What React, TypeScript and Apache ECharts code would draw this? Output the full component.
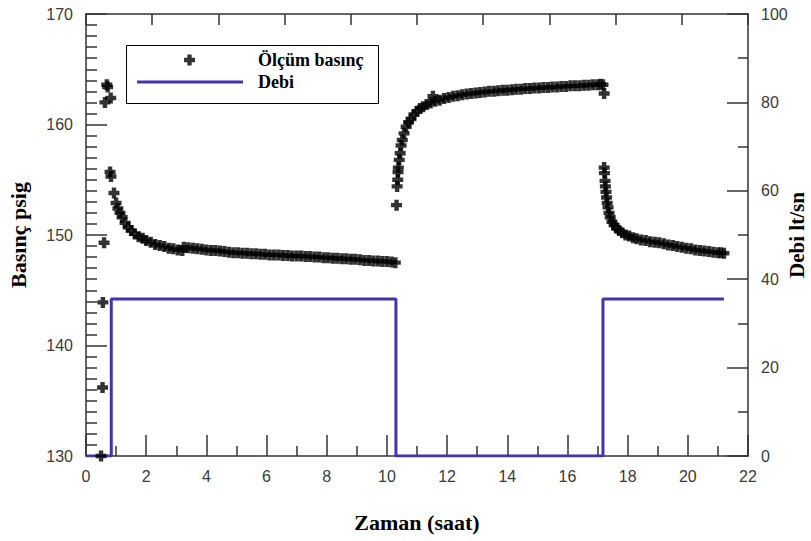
import React, { useEffect, useRef } from "react";
import * as echarts from "echarts";

// ---- Data ----
const xTickLabels = [0, 2, 4, 6, 8, 10, 12, 14, 16, 18, 20, 22];
const leftTickLabels = [130, 140, 150, 160, 170];
const rightTickLabels = [0, 20, 40, 60, 80, 100];

// Ölçüm basınç (psig) – start-up transient
const startupPoints: [number, number][] = [
  [0.5, 130.0], [0.55, 136.2], [0.56, 143.9], [0.6, 149.3],
  [0.63, 162.0], [0.69, 163.6], [0.72, 163.4], [0.82, 162.4],
  [0.8, 155.7], [0.83, 155.3],
];
// first flowing period
const flowPoints1: [number, number][] = [
  [0.93, 153.8], [1.0, 152.9], [1.06, 152.4], [1.13, 152.0], [1.2, 151.6], [1.3, 151.1],
  [1.4, 150.7], [1.5, 150.4], [1.62, 150.1], [1.75, 149.85], [1.88, 149.7], [2.0, 149.5],
  [2.15, 149.35], [2.3, 149.15], [2.45, 149.05], [2.6, 148.95], [2.75, 148.8], [2.9, 148.75],
  [3.05, 148.65], [3.2, 148.6], [3.25, 148.9], [3.4, 148.85], [3.55, 148.8], [3.7, 148.75],
  [3.85, 148.7], [4.0, 148.65], [4.15, 148.6], [4.3, 148.6], [4.45, 148.55], [4.6, 148.5],
  [4.75, 148.45], [4.9, 148.4], [5.05, 148.4], [5.2, 148.35], [5.35, 148.35], [5.5, 148.3],
  [5.65, 148.3], [5.8, 148.25], [5.95, 148.25], [6.1, 148.2], [6.25, 148.2], [6.4, 148.2],
  [6.55, 148.15], [6.7, 148.15], [6.85, 148.1], [7.0, 148.1], [7.15, 148.1], [7.3, 148.05],
  [7.45, 148.05], [7.6, 148.0], [7.75, 148.0], [7.9, 147.95], [8.05, 147.95], [8.2, 147.9],
  [8.35, 147.9], [8.5, 147.85], [8.65, 147.85], [8.8, 147.8], [8.95, 147.8], [9.1, 147.75],
  [9.25, 147.7], [9.4, 147.7], [9.55, 147.65], [9.7, 147.65], [9.85, 147.6], [10.0, 147.6],
  [10.15, 147.55], [10.28, 147.5],
];
// shut-in (build-up) period
const buildUpPoints: [number, number][] = [
  [10.32, 152.7], [10.34, 154.4], [10.36, 155.0], [10.37, 155.7], [10.38, 156.1], [10.41, 156.8],
  [10.44, 157.4], [10.47, 158.1], [10.51, 158.6], [10.57, 159.2], [10.64, 159.8], [10.72, 160.2],
  [10.8, 160.5], [10.9, 160.9], [11.0, 161.2], [11.1, 161.45], [11.2, 161.6], [11.32, 161.8],
  [11.45, 161.95], [11.53, 162.55], [11.6, 162.1], [11.75, 162.2], [11.9, 162.35], [12.05, 162.45],
  [12.2, 162.55], [12.35, 162.6], [12.5, 162.7], [12.65, 162.75], [12.8, 162.8], [12.95, 162.85],
  [13.1, 162.9], [13.25, 162.95], [13.4, 163.0], [13.55, 163.0], [13.7, 163.05], [13.85, 163.1],
  [14.0, 163.1], [14.15, 163.15], [14.3, 163.2], [14.45, 163.2], [14.6, 163.25], [14.75, 163.25],
  [14.9, 163.3], [15.05, 163.3], [15.2, 163.35], [15.35, 163.35], [15.5, 163.4], [15.65, 163.4],
  [15.8, 163.45], [15.95, 163.45], [16.1, 163.5], [16.25, 163.5], [16.4, 163.5], [16.55, 163.55],
  [16.7, 163.55], [16.85, 163.6], [17.0, 163.6], [17.1, 163.65], [17.18, 163.6], [17.22, 162.8],
];
// second flowing period
const flowPoints2: [number, number][] = [
  [17.22, 156.1], [17.23, 155.6], [17.25, 154.9], [17.26, 154.4], [17.28, 153.9], [17.3, 153.4],
  [17.32, 152.9], [17.35, 152.5], [17.38, 152.0], [17.42, 151.6], [17.48, 151.2], [17.55, 150.9],
  [17.63, 150.6], [17.72, 150.4], [17.82, 150.2], [17.93, 150.0], [18.05, 149.9], [18.18, 149.75],
  [18.3, 149.65], [18.45, 149.55], [18.6, 149.5], [18.75, 149.4], [18.9, 149.35], [19.05, 149.3],
  [19.2, 149.2], [19.35, 149.1], [19.5, 149.05], [19.65, 148.95], [19.8, 148.9], [19.95, 148.8],
  [20.1, 148.75], [20.25, 148.65], [20.4, 148.6], [20.55, 148.55], [20.7, 148.5], [20.85, 148.45],
  [21.0, 148.4], [21.1, 148.4], [21.2, 148.35],
];

// Debi (lt/sn) step line
const debiPoints: [number, number][] = [
  [0, 0], [0.84, 0], [0.84, 35.5], [10.3, 35.5], [10.3, 0],
  [17.18, 0], [17.18, 35.5], [21.2, 35.5],
];

const plusPath = "path://M3,0H7V3H10V7H7V10H3V7H0V3H3Z";
const axisColor = "#333";
const labelFont = "Liberation Sans, Arial, sans-serif";
const serif = "Liberation Serif, Times New Roman, serif";
const W = 811;
const H = 541;

export default function App() {
  const ref = useRef<HTMLDivElement>(null);
  useEffect(() => {
    if (!ref.current) return;
    document.body.style.margin = "0";
    const chart = echarts.init(ref.current, undefined, { renderer: "svg", width: W, height: H });
    const labelStyle = { fontFamily: labelFont, fontSize: 16, color: "#3a3a3a" };
    const nameStyle = { fontFamily: serif, fontWeight: "bold" as const, fontSize: 22, color: "#000" };
    chart.setOption({
      animation: false,
      backgroundColor: "#fff",
      grid: { left: 86, right: 63, top: 14, bottom: 85, containLabel: false, outerBoundsMode: "none" },
      legend: [
        {
          data: [{ name: "Ölçüm basınç", icon: plusPath }],
          left: 184, top: 51, padding: 0, itemWidth: 11, itemHeight: 11,
          selectedMode: false,
          textStyle: { fontFamily: serif, fontWeight: "bold", fontSize: 18, color: "#000", padding: [0, 0, 0, 58] },
        },
        {
          data: [{ name: "Debi", icon: "rect" }],
          left: 137, top: 73, padding: 0, itemWidth: 106, itemHeight: 3,
          selectedMode: false,
          textStyle: { fontFamily: serif, fontWeight: "bold", fontSize: 18, color: "#000", padding: [0, 0, 0, 10] },
        },
      ],
      graphic: [
        {
          type: "rect", left: 126, top: 45, z: 0,
          shape: { width: 252, height: 58 },
          style: { fill: "transparent", stroke: "#000", lineWidth: 1 },
        },
      ],
      xAxis: [
        {
          type: "value", min: xTickLabels[0], max: xTickLabels[xTickLabels.length - 1], interval: 2,
          position: "bottom",
          name: "Zaman (saat)", nameLocation: "middle", nameGap: 55, nameTextStyle: nameStyle,
          nameMoveOverlap: false,
          axisLine: { show: true, onZero: false, lineStyle: { color: axisColor, width: 1.5 } },
          axisTick: { show: true, inside: true, length: 21, lineStyle: { color: axisColor, width: 1.5 } },
          minorTick: { show: true, splitNumber: 2, length: 10, lineStyle: { color: axisColor, width: 1.5 } },
          axisLabel: { ...labelStyle, margin: 12 },
          splitLine: { show: false },
        },
        {
          type: "value", min: 0, max: 10, interval: 1, position: "top",
          axisLine: { show: true, onZero: false, lineStyle: { color: axisColor, width: 1.5 } },
          axisTick: { show: true, inside: true, length: 11, lineStyle: { color: axisColor, width: 1.5 } },
          axisLabel: { show: false },
          splitLine: { show: false },
        },
      ],
      yAxis: [
        {
          type: "value", min: leftTickLabels[0], max: leftTickLabels[leftTickLabels.length - 1], interval: 10,
          position: "left",
          name: "Basınç psig", nameLocation: "middle", nameGap: 57, nameTextStyle: nameStyle,
          nameMoveOverlap: false,
          axisLine: { show: true, onZero: false, lineStyle: { color: axisColor, width: 1.5 } },
          axisTick: { show: true, inside: true, length: 21, lineStyle: { color: axisColor, width: 1.5 } },
          minorTick: { show: true, splitNumber: 10, length: 11, lineStyle: { color: axisColor, width: 1.5 } },
          axisLabel: { ...labelStyle, margin: 13 },
          splitLine: { show: false },
        },
        {
          type: "value", min: rightTickLabels[0], max: rightTickLabels[rightTickLabels.length - 1], interval: 20,
          position: "right",
          name: "Debi lt/sn", nameLocation: "middle", nameGap: 38,
          nameTextStyle: { ...nameStyle, fontSize: 21 },
          nameMoveOverlap: false,
          axisLine: { show: true, onZero: false, lineStyle: { color: axisColor, width: 1.5 } },
          axisTick: { show: true, inside: true, length: 21, lineStyle: { color: axisColor, width: 1.5 } },
          minorTick: { show: true, splitNumber: 2, length: 10, lineStyle: { color: axisColor, width: 1.5 } },
          axisLabel: { ...labelStyle, margin: 13 },
          splitLine: { show: false },
        },
      ],
      series: [
        {
          name: "Ölçüm basınç", type: "scatter", xAxisIndex: 0, yAxisIndex: 0,
          symbol: plusPath, symbolSize: 11,
          itemStyle: { color: "#000" },
          data: [...startupPoints, ...flowPoints1, ...buildUpPoints, ...flowPoints2],
          z: 3,
        },
        {
          name: "Debi", type: "line", xAxisIndex: 0, yAxisIndex: 1,
          showSymbol: false, symbol: "none",
          lineStyle: { color: "#4433aa", width: 3 },
          itemStyle: { color: "#4433aa" },
          data: debiPoints,
          z: 2,
        },
      ],
    });
    return () => chart.dispose();
  }, []);
  return <div ref={ref} style={{ width: W, height: H, background: "#fff" }} />;
}
